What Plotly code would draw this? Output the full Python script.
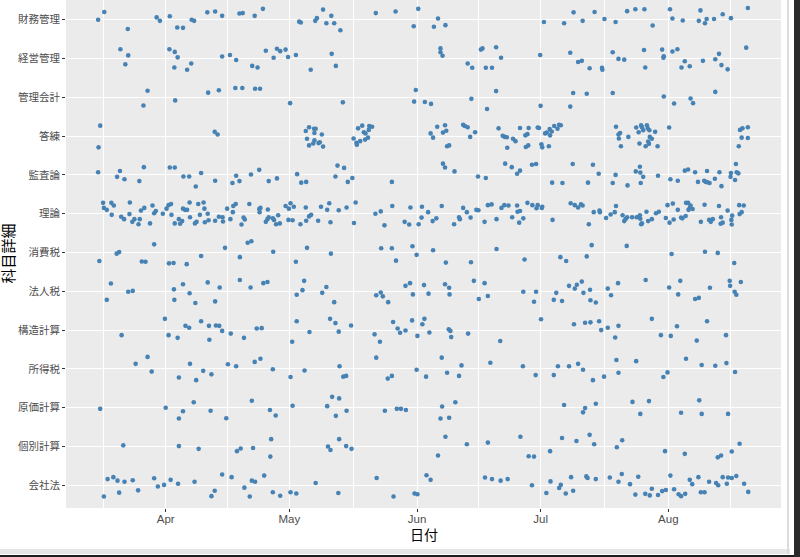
import pandas as pd
import plotly.graph_objects as go

BASE = pd.Timestamp("2019-04-01")

categories = ["会社法", "個別計算", "原価計算", "所得税", "構造計算", "法人税",
              "消費税", "理論", "監査論", "答練", "管理会計", "経営管理", "財務管理"]

month_ticks = ["2019-04-01", "2019-05-01", "2019-06-01", "2019-07-01", "2019-08-01"]
month_labels = ["Apr", "May", "Jun", "Jul", "Aug"]
minor_ticks = ["2019-03-17", "2019-04-16", "2019-05-16 12:00", "2019-06-16",
               "2019-07-16 12:00", "2019-08-16"]

# days relative to 2019-04-01, and vertical jitter (category units)
zaimu_days = [-16.4,-14.9,-9.2,-2.2,-1.4,1.0,2.8,4.2,6.3,6.9,10.1,12.0,13.7,17.9,18.7,21.6,23.6,32.4,32.8,36.3,
              36.7,38.2,39.0,40.2,40.9,42.4,51.0,55.8,61.3,60.2,65.1,66.1,67.9,91.8,96.7,99.0,101.2,104.1,106.5,109.2,
              112.0,114.0,116.2,118.2,122.4,123.0,125.5,129.4,129.8,130.9,131.3,133.1,135.2,137.2,141.3]
zaimu_jit = [0,0.20,-0.24,0.06,-0.03,0.09,-0.20,-0.21,0,-0.03,0.19,0.21,0.10,0.16,0.17,0.10,0.28,-0.05,-0.07,-0.03,
             0.04,0.26,-0.09,0.10,-0.09,-0.27,0.17,0.21,0.28,-0.17,-0.18,0.03,-0.14,-0.06,-0.09,0.19,-0.03,0.20,0.02,-0.06,
             0.22,0.27,0.27,-0.15,0.27,0.03,-0.02,-0.03,0.24,-0.09,0.02,0.02,0.14,0.04,0.30]

keiei_days = [-11.0,-9.1,-9.8,0.9,2.2,2.9,2.1,5.2,6.2,13.7,15.6,17.1,21.0,22.3,24.3,26.2,27.0,27.8,29.1,29.7,
              31.6,35.2,40.3,41.3,66.7,66.7,67.2,73.3,74.4,76.5,76.9,80.2,81.4,77.7,79.2,90.9,98.2,100.1,101.0,102.9,
              105.9,106.0,108.5,109.9,111.3,116.1,116.4,120.5,120.9,120.8,123.0,124.2,126.0,125.2,127.2,130.4,133.4,134.3,134.9,136.4,140.9]
keiei_jit = [0.24,0.08,-0.15,0.24,0.17,0.03,-0.23,-0.29,-0.13,0.05,0.09,-0.04,-0.19,-0.23,0.20,0.02,0.25,0.19,0.23,0.04,
             0.09,-0.29,0.12,-0.19,0.26,0.16,0.07,-0.13,-0.24,0.23,0.26,0.29,0.02,-0.24,-0.24,0.09,0.15,-0.09,-0.06,-0.25,
             -0.24,-0.29,0.16,-0.01,-0.03,0.22,-0.23,0.23,0.06,0.02,0.18,0.24,-0.07,-0.23,-0.20,-0.06,-0.02,0.12,-0.17,-0.28,0.28]

kanri_days = [-4.4,-5.4,2.3,10.3,12.9,16.9,18.6,21.7,22.9,30.2,43.0,60.7,60.3,62.9,64.4,74.2,80.2,78.0,91.0,98.2,
              98.9,102.2,108.5,120.9,123.4,127.4,128.0,133.4]
kanri_jit = [0.17,-0.21,-0.08,0.12,0.18,0.24,0.24,0.22,0.22,-0.15,-0.13,0.19,-0.11,-0.12,-0.17,-0.04,0.16,-0.30,-0.22,-0.24,
             0.11,0.09,0.11,0.02,-0.16,-0.03,-0.15,0.14]

toren_days = [-15.9,-16.3,11.9,12.6,34.0,34.8,36.0,36.4,36.1,37.9,34.3,36.1,35.8,34.8,37.1,37.4,38.2,45.6,46.3,46.4,
              47.2,46.7,47.7,48.1,48.5,48.4,49.1,49.3,49.4,50.1,64.3,64.9,65.9,67.3,67.8,68.1,68.3,68.8,72.2,72.6,
              73.3,75.1,73.9,80.8,81.8,82.3,82.8,82.9,84.3,84.9,86.0,87.3,87.8,88.1,88.0,87.4,90.3,90.6,91.2,91.4,
              92.1,92.5,93.0,93.2,93.3,93.7,94.3,95.1,95.5,95.9,109.3,109.9,110.3,110.0,110.5,112.3,114.2,114.8,115.4,115.6,
              115.9,116.8,117.0,117.4,117.5,118.0,117.1,117.3,116.5,115.0,118.8,119.4,122.2,139.1,139.4,140.0,139.8,141.3,141.3]
toren_jit = [0.27,-0.29,0.11,0.04,0.13,0.23,0.19,0.19,0.08,0.04,-0.07,-0.11,-0.19,-0.24,-0.18,-0.16,-0.27,-0.06,-0.17,-0.22,
             -0.13,0.20,0.27,0.10,0.07,-0.09,-0.04,0.16,0.26,0.24,0.07,-0.04,0.24,0.09,0.28,0.14,-0.26,-0.24,0.29,0.26,
             0.23,0.10,-0.02,0.20,0.01,-0.02,-0.03,-0.30,-0.07,-0.13,0.21,0.02,0.05,0.21,-0.24,-0.28,0.22,0.21,-0.21,-0.29,
             0.07,0.09,-0.26,0.18,0.02,0.12,0.26,0.19,0.29,0.28,0.24,0.04,0.08,-0.06,-0.26,-0.02,0.22,0.10,0.28,0.23,
             0.15,0.28,0.20,0.15,-0.02,-0.07,-0.14,-0.20,-0.26,-0.19,0.11,-0.26,0.22,-0.26,0.16,0.20,-0.04,0.23,-0.05]

kansa_days = [-16.4,-11.1,-5.3,1.0,2.2,-11.8,-10.0,-6.4,4.3,5.7,8.6,7.3,12.0,16.2,17.1,17.9,20.7,22.7,25.0,27.0,
              31.9,32.9,34.1,41.7,43.3,41.2,44.2,45.3,54.9,67.3,67.8,70.1,75.8,77.7,82.4,84.0,85.3,86.0,88.9,89.9,
              93.8,96.3,98.8,102.5,103.7,105.1,108.5,109.2,112.1,114.1,115.1,115.2,115.3,115.9,119.5,122.5,124.3,126.0,126.8,128.5,
              129.2,130.7,131.1,131.5,132.0,131.4,133.3,134.4,134.9,137.2,137.1,138.2,138.4,138.6,139.0]
kansa_jit = [0.07,0.10,0.20,0.19,0.19,-0.05,-0.11,-0.16,-0.04,-0.04,0.05,-0.30,-0.15,-0.21,-0.02,-0.16,0.01,0.13,-0.16,-0.09,
             0.02,-0.20,-0.18,0.24,0.18,-0.04,-0.18,-0.08,-0.18,0.29,0.19,0.09,-0.04,-0.08,0.29,0.20,0.03,0.11,0.26,0.28,
             -0.20,-0.21,0.28,-0.20,0.26,0.03,-0.21,0.00,-0.27,0.09,0.21,0.06,-0.21,-0.05,-0.02,-0.11,-0.15,0.11,0.14,0.07,
             -0.18,-0.15,-0.18,-0.19,-0.21,0.10,-0.10,0.07,-0.29,0.05,-0.05,-0.13,0.28,0.07,0.04]

riron_days = [-15.2,-15.0,-14.3,-13.2,-12.6,-13.1,-10.8,-10.1,-8.7,-8.8,-8.1,-7.6,-6.6,-6.3,-6.0,-5.2,-3.8,-3.2,-2.4,-2.8,
              -0.7,0.2,0.7,1.3,1.4,2.2,3.2,3.5,4.0,4.2,4.7,5.2,5.8,5.9,7.1,7.5,7.9,8.3,9.2,9.4,
              9.5,10.2,10.4,12.0,12.9,13.8,13.9,14.9,15.7,16.3,16.4,17.0,18.4,18.9,19.2,20.3,22.7,23.0,22.8,24.3,
              24.7,25.0,24.8,26.0,26.3,26.8,27.3,27.7,29.1,29.9,30.3,31.1,29.8,30.8,32.7,34.0,34.1,34.8,35.3,37.0,
              37.7,39.2,39.7,40.0,42.0,43.9,45.7,46.1,50.9,52.2,53.1,55.0,58.0,59.1,59.4,61.4,62.1,62.2,63.7,64.8,
              65.7,67.0,70.0,71.2,71.4,72.2,73.1,74.0,75.4,75.9,77.4,78.2,79.1,80.3,81.5,82.2,83.2,84.1,85.3,85.4,
              85.8,86.8,87.8,86.0,89.0,90.0,90.3,91.3,91.4,93.9,
              98.3,99.3,100.1,100.8,101.2,102.7,103.9,105.3,105.4,106.9,108.0,109.0,109.3,110.9,111.3,111.6,112.0,113.2,114.3,114.8,
              115.2,115.1,115.4,115.6,116.7,117.1,118.0,119.0,119.7,121.4,121.8,122.3,123.1,123.3,124.3,125.1,125.4,126.2,126.3,126.8,
              126.9,127.2,127.4,127.9,129.9,130.8,131.9,132.3,132.8,134.3,134.8,134.7,135.2,136.4,137.3,137.5,137.4,139.3,139.8,139.2,140.3]
riron_jit = [0.28,0.15,0.10,0.28,0.21,-0.03,-0.08,-0.14,0.29,-0.01,-0.21,-0.14,-0.27,-0.14,0.08,0.15,-0.25,0.21,0.07,0.01,
             0.00,0.13,0.22,0.25,-0.03,-0.25,-0.14,-0.26,-0.19,0.13,0.10,0.10,0.29,-0.09,-0.25,-0.21,0.25,-0.03,0.29,0.13,
             -0.22,0.00,-0.17,-0.18,-0.08,-0.09,-0.20,0.13,-0.14,0.04,0.20,0.25,-0.28,-0.10,-0.15,0.25,0.12,0.15,0.04,-0.21,
             -0.14,-0.09,0.11,-0.12,-0.16,-0.27,-0.04,-0.25,0.20,0.13,0.27,0.18,-0.16,-0.17,-0.27,0.16,-0.18,-0.07,-0.03,-0.18,
             0.18,0.10,0.27,-0.22,0.09,0.16,-0.24,0.29,0.00,0.06,-0.30,0.20,-0.21,-0.28,0.16,-0.27,-0.10,0.18,0.04,-0.19,
             -0.12,0.20,-0.27,-0.09,-0.14,0.15,0.04,-0.10,0.10,0.09,-0.21,0.22,0.24,-0.14,0.15,0.22,0.21,-0.09,0.21,0.05,
             -0.23,-0.12,0.28,0.07,0.22,0.14,0.22,0.15,0.18,-0.16,
             0.27,0.22,0.16,0.24,0.21,-0.27,0.04,0.08,0.04,-0.11,-0.02,0.04,0.20,-0.04,-0.19,-0.14,-0.09,-0.09,-0.09,-0.08,
             -0.13,-0.04,-0.27,-0.25,0.05,-0.19,-0.14,0.01,0.05,-0.11,0.22,-0.23,0.26,-0.15,0.10,-0.10,-0.12,-0.06,0.28,0.28,
             0.10,0.15,0.21,0.12,-0.21,0.23,-0.16,-0.21,-0.14,0.20,-0.09,-0.26,-0.23,0.08,-0.16,-0.05,-0.28,-0.01,0.04,0.22,0.21]

shohi_days = [-2.8,-16.1,-11.9,-11.3,-5.8,-4.9,0.8,1.9,5.1,8.6,14.4,18.0,19.9,20.8,26.1,31.6,34.3,40.1,52.3,54.9,
              55.9,59.9,60.9,64.9,68.0,74.1,80.3,87.1,95.8,97.2,102.2,103.4,111.9,122.8,130.9,134.0,138.0]
shohi_jit = [0.21,-0.22,-0.03,0.01,-0.23,-0.24,-0.28,-0.27,-0.30,-0.09,0.12,-0.12,0.25,0.29,0.02,-0.24,0.12,-0.03,0.11,0.11,
             -0.21,0.16,-0.06,0.06,-0.26,-0.25,0.09,-0.18,-0.12,-0.22,-0.10,0.19,0.17,-0.04,0.02,-0.01,-0.27]

hojin_days = [-13.3,-14.3,-9.1,-8.0,2.0,2.1,4.2,5.8,7.2,10.2,12.0,13.1,18.0,20.6,23.7,24.7,33.6,33.2,31.8,38.0,
              39.0,40.9,51.1,52.2,52.7,54.0,58.2,59.3,60.0,62.7,63.8,67.8,68.8,68.9,74.8,76.0,77.4,78.2,86.8,89.9,
              89.4,94.2,94.8,96.2,97.9,99.3,99.8,101.0,101.4,103.0,103.1,104.4,107.3,108.1,109.8,116.5,122.2,124.4,124.9,128.5,
              129.4,132.1,136.9,137.0,138.1,138.5,139.6]
hojin_jit = [0.20,-0.22,-0.01,0.01,0.05,-0.22,0.18,-0.05,-0.30,0.23,-0.26,0.10,0.29,0.10,0.21,0.24,0.27,0.03,-0.09,-0.04,
             0.11,-0.28,-0.10,-0.03,-0.13,-0.28,0.14,0.21,-0.08,0.16,-0.06,0.18,0.09,-0.08,0.27,-0.20,0.21,-0.12,-0.01,-0.01,
             -0.27,-0.22,-0.04,-0.25,0.14,0.07,0.17,0.25,-0.04,0.04,-0.23,-0.29,0.07,-0.10,0.21,0.29,0.10,-0.08,0.27,-0.20,
             -0.17,0.09,0.27,0.14,-0.01,-0.09,0.24]

kozo_days = [-0.2,-10.7,0.7,2.9,4.8,5.7,8.6,10.6,10.5,12.2,13.0,13.7,15.8,19.0,22.1,23.3,30.7,31.8,34.9,39.9,
             41.2,42.0,45.0,50.7,52.0,55.2,56.3,56.9,58.2,59.8,61.1,62.3,62.8,64.0,68.7,69.1,69.3,73.4,81.2,91.1,
             99.1,101.8,103.1,105.2,105.7,107.3,109.1,109.9,118.0,120.2,122.6,124.1,128.9,131.4,136.0]
kozo_jit = [0.29,-0.13,-0.13,-0.20,0.11,0.06,0.23,-0.25,0.11,0.12,0.11,-0.02,-0.09,-0.20,0.04,0.05,-0.30,0.23,-0.05,0.29,
            0.18,-0.04,0.12,-0.11,-0.30,0.21,0.04,-0.07,-0.01,0.25,-0.15,0.15,0.29,-0.06,0.02,-0.02,-0.18,-0.09,-0.28,0.28,
            0.15,0.19,0.20,0.23,0.00,0.06,-0.19,0.11,0.29,-0.13,-0.15,0.10,-0.27,0.23,-0.13]

shotoku_days = [-4.4,-7.3,5.9,15.1,17.1,21.6,23.0,-3.4,3.2,7.4,9.1,11.1,26.0,33.7,42.2,51.1,67.0,71.8,78.8,86.7,
                60.9,30.3,43.1,43.8,53.9,54.9,63.2,68.3,71.2,95.2,97.9,100.1,101.3,109.4,114.2,126.3,130.1,133.4,136.1,89.8,
                94.2,103.7,106.4,109.9,120.8,121.8,138.2]
shotoku_jit = [0.31,0.13,0.13,0.12,0.07,0.18,0.26,-0.07,-0.22,-0.29,-0.05,-0.14,-0.01,-0.04,0.07,0.29,0.29,0.09,0.16,0.07,
               -0.02,-0.21,-0.20,-0.18,-0.25,-0.18,-0.20,-0.10,-0.18,0.07,0.07,0.13,-0.02,0.23,0.20,0.26,0.10,0.08,0.15,-0.16,
               -0.16,-0.29,-0.20,-0.10,-0.21,-0.09,-0.08]

genka_days = [-15.9,0.0,3.2,4.2,6.8,10.9,14.7,20.9,25.3,26.7,30.8,39.2,40.4,41.3,42.1,43.9,53.2,56.1,57.1,58.3,
              67.1,66.7,68.8,70.3,96.7,101.3,101.8,104.4,113.3,115.2,117.3,125.1,129.5,130.1,136.5]
genka_jit = [-0.03,0.00,-0.28,-0.09,0.14,-0.08,-0.27,0.18,-0.06,-0.20,0.05,0.04,0.28,-0.21,0.24,-0.08,-0.08,-0.03,-0.03,-0.06,
             0.03,-0.28,-0.26,0.14,0.07,-0.12,-0.01,0.10,0.15,-0.16,0.17,-0.13,0.19,-0.16,-0.16]

kobetsu_days = [-10.3,3.2,8.0,17.3,18.2,21.2,25.4,25.6,39.4,40.0,42.1,43.8,45.1,67.9,66.1,73.1,78.2,86.1,88.1,89.4,
                93.3,96.2,99.7,102.9,104.0,109.5,110.8,121.2,126.0,134.0,134.8,137.4,139.3]
kobetsu_jit = [0.03,0.01,-0.06,-0.12,-0.05,-0.04,-0.26,0.19,0.00,-0.09,0.19,0.01,-0.06,0.25,-0.23,0.06,0.10,0.25,-0.25,-0.26,
               -0.12,0.22,0.14,0.30,0.06,-0.02,0.16,-0.12,-0.19,-0.28,-0.23,-0.13,0.07]

kaisha_days = [-15.0,-14.1,-12.7,-11.7,-11.3,-10.0,-8.0,-6.7,-2.8,-1.9,-0.4,1.2,3.0,7.0,11.1,11.9,13.7,16.0,19.1,20.4,
               20.9,21.7,23.9,26.0,27.8,30.3,31.7,36.4,41.9,51.2,55.3,60.4,61.1,63.3,64.3,77.5,79.2,81.3,83.0,88.9,
               92.4,93.4,95.5,95.9,97.1,98.4,98.9,102.1,102.4,104.4,107.8,109.9,110.7,112.7,114.0,114.7,116.4,117.5,118.0,119.5,
               120.5,121.4,122.5,123.4,124.5,125.1,126.1,127.2,127.8,129.3,129.9,130.8,131.9,133.6,134.1,135.2,136.2,136.5,137.4,138.5,
               140.4,141.4]
kaisha_jit = [-0.29,0.16,0.21,0.12,-0.19,0.09,0.13,-0.13,0.18,-0.03,0.01,0.14,0.04,0.09,-0.28,-0.14,0.28,0.21,-0.06,-0.29,
              0.12,0.09,0.25,-0.18,-0.27,-0.18,-0.21,0.06,-0.20,0.19,-0.29,-0.21,-0.23,0.26,0.14,0.20,0.16,0.12,0.16,0.00,
              -0.20,0.10,-0.07,0.01,-0.21,0.21,-0.14,0.23,0.19,0.16,0.20,0.09,0.29,0.03,-0.24,0.22,-0.22,-0.26,-0.09,-0.25,
              -0.15,-0.12,0.25,-0.10,-0.23,-0.28,-0.22,0.14,0.03,0.21,-0.18,-0.18,0.09,0.06,0.00,0.21,0.04,0.20,0.19,0.24,
              0.04,-0.17]

series = [
    ("会社法", kaisha_days, kaisha_jit),
    ("個別計算", kobetsu_days, kobetsu_jit),
    ("原価計算", genka_days, genka_jit),
    ("所得税", shotoku_days, shotoku_jit),
    ("構造計算", kozo_days, kozo_jit),
    ("法人税", hojin_days, hojin_jit),
    ("消費税", shohi_days, shohi_jit),
    ("理論", riron_days, riron_jit),
    ("監査論", kansa_days, kansa_jit),
    ("答練", toren_days, toren_jit),
    ("管理会計", kanri_days, kanri_jit),
    ("経営管理", keiei_days, keiei_jit),
    ("財務管理", zaimu_days, zaimu_jit),
]

xs, ys = [], []
for name, days, jit in series:
    idx = categories.index(name)
    for d, j in zip(days, jit):
        xs.append(BASE + pd.Timedelta(days=d))
        ys.append(idx + j)

fig = go.Figure(go.Scatter(
    x=xs, y=ys, mode="markers",
    marker=dict(color="#4682B4", size=4.6, line=dict(width=0)),
    hoverinfo="skip", showlegend=False,
))

FONT = "Liberation Sans, Noto Sans CJK JP, sans-serif"
x_range = [BASE - pd.Timedelta(days=24.2), BASE + pd.Timedelta(days=149.35)]

fig.update_layout(
    width=800, height=557,
    margin=dict(l=66, r=19, t=0, b=49),
    paper_bgcolor="white", plot_bgcolor="#EBEBEB",
    font=dict(family=FONT, color="#4D4D4D"),
    xaxis=dict(
        type="date", range=x_range,
        tickmode="array", tickvals=month_ticks, ticktext=month_labels,
        showgrid=True, gridcolor="white", gridwidth=1.3,
        minor=dict(tickmode="array", tickvals=minor_ticks, showgrid=True,
                   gridcolor="white", gridwidth=0.6, ticks=""),
        ticks="outside", ticklen=3, tickwidth=1, tickcolor="#333333",
        ticklabelstandoff=-3,
        tickfont=dict(size=11.5, color="#4D4D4D", family=FONT),
        zeroline=False, showline=False,
    ),
    yaxis=dict(
        range=[-0.585, 12.508],
        tickmode="array", tickvals=list(range(len(categories))), ticktext=categories,
        showgrid=True, gridcolor="white", gridwidth=1.3,
        ticks="outside", ticklen=3, tickwidth=1, tickcolor="#333333",
        tickfont=dict(size=10.5, color="#4D4D4D", family=FONT),
        zeroline=False, showline=False,
    ),
    annotations=[
        dict(text="日付", xref="paper", yref="paper", x=0.5, y=(508 - 535) / 508,
             xanchor="center", yanchor="middle", showarrow=False,
             font=dict(size=14, color="black", family=FONT)),
        dict(text="科目詳細", xref="paper", yref="paper", x=(7.5 - 66) / 715, y=0.5,
             xanchor="center", yanchor="middle", textangle=-90, showarrow=False,
             font=dict(size=15, color="black", family=FONT)),
    ],
)

# window frame seen at the right and bottom edge of the reference screenshot
frame_js = """
document.body.style.margin='0';
document.body.style.overflow='hidden';
function mk(l,t,w,h,c){var e=document.createElement('div');
e.style.cssText='position:fixed;left:'+l+'px;top:'+t+'px;width:'+w+'px;height:'+h+'px;background:'+c+';pointer-events:none;z-index:1000';
document.body.appendChild(e);}
mk(0,549,790,5,'#E6E6E6');
mk(787,0,2,554,'#DCDCDC');
mk(0,555,800,2,'#1E1E1E');
mk(794,0,6,557,'#2A2A2A');
"""

fig.write_html(
    "out.html",
    config={"displayModeBar": False},
    post_script=frame_js,
)
